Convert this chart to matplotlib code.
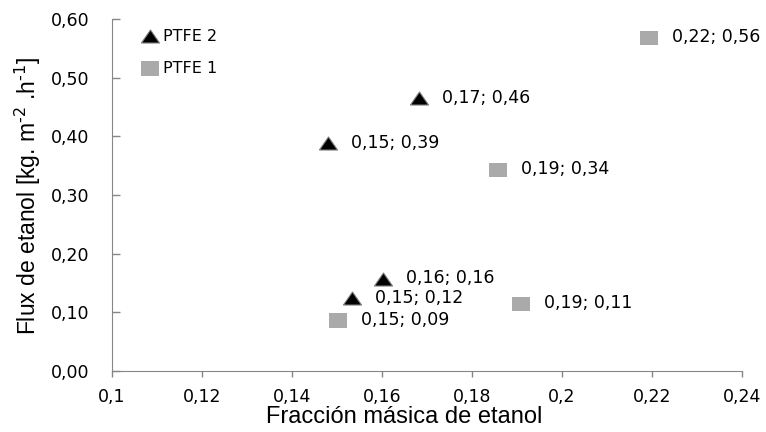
import matplotlib.pyplot as plt
from matplotlib.ticker import FuncFormatter

# PTFE 2 (triangles) and PTFE 1 (squares)
ptfe2_x = [0.1481, 0.1683, 0.1602, 0.1533]
ptfe2_y = [0.388, 0.465, 0.157, 0.124]
ptfe2_lab = ['0,15; 0,39', '0,17; 0,46', '0,16; 0,16', '0,15; 0,12']

ptfe1_x = [0.1502, 0.1908, 0.1858, 0.2193]
ptfe1_y = [0.086, 0.1145, 0.343, 0.568]
ptfe1_lab = ['0,15; 0,09', '0,19; 0,11', '0,19; 0,34', '0,22; 0,56']

xticks = [0.1, 0.12, 0.14, 0.16, 0.18, 0.2, 0.22, 0.24]
yticks = [0.0, 0.1, 0.2, 0.3, 0.4, 0.5, 0.6]

# the original picture is stretched sideways, so markers are wider than tall
tri = [(-1, -0.72), (1, -0.72), (0, 0.72), (-1, -0.72)]
box = [(-1, -0.78), (1, -0.78), (1, 0.78), (-1, 0.78), (-1, -0.78)]

fig = plt.figure(figsize=(7.66, 4.32), dpi=100)
ax = fig.add_axes([112 / 766, 1 - 371 / 432, 630 / 766, 352 / 432])

ax.scatter(ptfe2_x, ptfe2_y, marker=tri, s=170, color='black', edgecolors='#7f7f7f',
           linewidths=0.8, label='PTFE 2', zorder=3)
ax.scatter(ptfe1_x, ptfe1_y, marker=box, s=170, color='#aaaaaa', edgecolors='none',
           label='PTFE 1', zorder=3)

for x, y, t in zip(ptfe2_x + ptfe1_x, ptfe2_y + ptfe1_y, ptfe2_lab + ptfe1_lab):
    ax.annotate(t, (x, y), xytext=(16.5, 0.5), textcoords='offset points',
                fontsize=12.5, family='DejaVu Sans', va='center', ha='left')

ax.set_xlim(0.1, 0.24)
ax.set_ylim(0, 0.6)
ax.set_xticks(xticks)
ax.set_yticks(yticks)
ax.xaxis.set_major_formatter(FuncFormatter(lambda v, p: ('%g' % round(v, 2)).replace('.', ',')))
ax.yaxis.set_major_formatter(FuncFormatter(lambda v, p: ('%.2f' % v).replace('.', ',')))
for lab in ax.get_xticklabels() + ax.get_yticklabels():
    lab.set_family('DejaVu Sans')
    lab.set_fontsize(12.5)

for s in ['top', 'right']:
    ax.spines[s].set_visible(False)
for s in ['left', 'bottom']:
    ax.spines[s].set_color('#868686')
ax.tick_params(colors='#868686', labelcolor='black', width=1)
ax.tick_params(axis='x', direction='out', length=4, pad=8)
ax.tick_params(axis='y', direction='in', length=5.5, pad=16.5)

ax.set_xlabel('Fracción másica de etanol', family='Liberation Sans', fontsize=17)
ax.xaxis.label.set_va('center')
ax.xaxis.set_label_coords(0.464, -0.13)
ax.set_ylabel(r'Flux de etanol [kg. m$^{\text{-}2}$ .h$^{\text{-}1}$]', family='Liberation Sans',
              fontsize=16.5)
ax.yaxis.label.set_va('center')
ax.yaxis.set_label_coords(-0.133, 0.497)

leg = ax.legend(loc='upper left', bbox_to_anchor=(0.048, 0.973), frameon=False,
                borderpad=0, borderaxespad=0, handletextpad=0.3, handlelength=1.0,
                prop={'family': 'DejaVu Sans', 'size': 11.5}, labelspacing=1.08)

fig.savefig('out.png')
